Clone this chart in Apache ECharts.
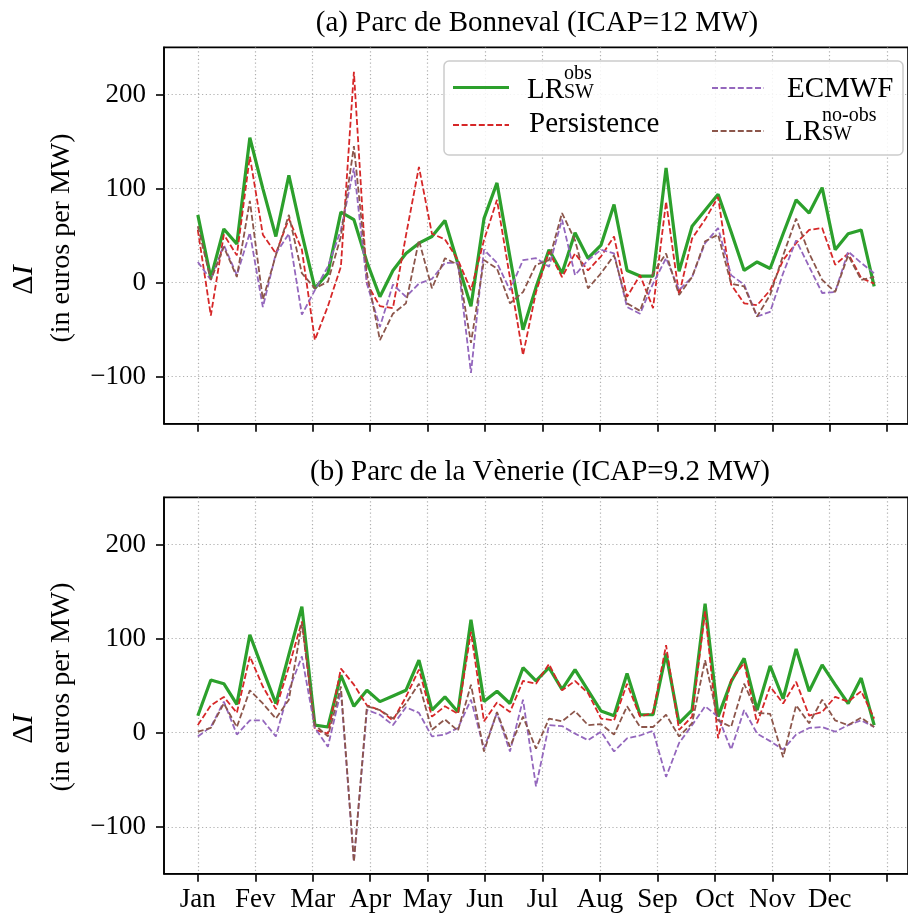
<!DOCTYPE html>
<html><head><meta charset="utf-8">
<script src="https://cdn.jsdelivr.net/npm/echarts@6/dist/echarts.min.js"></script>
<style>html,body{margin:0;padding:0;background:#fff}#c{width:908px;height:915px}</style>
</head><body><div id="c"></div>
<script>
// ---- data ----
const months = ['Jan','Fev','Mar','Apr','May','Jun','Jul','Aug','Sep','Oct','Nov','Dec'];
const nWeeks = 53;
const yTicks = [-100, 0, 100, 200];

// (a) Parc de Bonneval
const aLRobs = [72,5,57,41,154,100,49,114,52,-6,10,75,67,22,-15,13,31,42,49,66,20,-25,68,106,27,-50,-5,35,10,53,26,40,83,13,7,7,122,12,60,77,94,54,13,22,15,52,88,74,101,35,52,56,-4];
const aPers  = [56,-35,51,29,134,51,31,68,35,-61,-25,17,224,-1,-25,-27,50,123,52,46,24,-8,45,88,5,-77,-10,33,6,31,13,28,49,-15,8,-27,86,-13,47,67,91,-2,-22,-24,-8,24,42,56,58,19,31,5,-1];
const aECMWF = [22,3,40,8,53,-26,31,52,-34,-8,17,56,122,-1,-47,-2,-15,-1,4,21,21,-96,35,21,-8,24,26,17,67,8,24,35,31,-26,-33,-1,26,-8,6,42,58,8,-2,-36,-31,10,45,17,-11,-10,33,21,10];
const aNoObs = [60,3,38,6,87,-18,29,72,10,-6,1,49,145,10,-61,-33,-22,45,-6,26,19,-64,24,15,-22,-10,19,24,74,45,-6,10,29,-22,-30,10,31,-13,6,44,51,-1,-4,-36,-13,29,68,31,3,-10,29,3,6];

// (b) Parc de la Vènerie
const bLRobs = [18,56,52,30,104,67,31,83,134,8,6,61,28,45,33,39,45,77,24,38,22,120,33,44,31,69,55,69,46,67,45,23,18,63,19,19,84,10,24,137,17,54,79,24,71,36,89,44,72,51,31,58,8];
const bPers  = [8,29,38,21,81,49,25,70,118,3,-1,68,51,29,24,13,38,67,17,28,20,107,12,32,22,55,52,73,45,55,42,15,13,52,17,21,93,3,17,129,-6,56,74,10,49,31,54,18,22,38,33,44,15];
const bECMWF = [-4,6,33,-2,13,13,-4,45,81,5,-15,44,-137,24,19,8,27,21,-4,-2,5,35,-17,21,-20,35,-57,8,7,-1,-8,1,-20,-6,-3,2,-47,-11,8,28,17,-18,24,-1,-9,-18,-2,5,6,1,8,13,6];
const bNoObs = [1,5,31,6,45,31,15,35,116,8,-4,49,-137,28,24,15,31,52,3,14,2,51,-20,22,-15,17,-17,15,12,23,8,9,-2,28,6,6,19,-4,10,77,13,6,52,21,20,-26,29,10,35,13,8,16,6];

// ---- styling ----
const FONT = '"Liberation Serif","DejaVu Serif",serif';
const C_GREEN = '#2ca02c', C_RED = '#d62728', C_PURPLE = '#9467bd', C_BROWN = '#8c564b';
const DASH = [6, 2.6];
const DW = 1.8, GW = 3.2;

const monthPos = months.map((m, k) => k * nWeeks / 12);
const tickPos = monthPos.concat([nWeeks]);
const xMin = -0.05 * (nWeeks - 1), xMax = (nWeeks - 1) * 1.05;

function toXY(arr) { return arr.map((v, i) => [i, v]); }

const GRID_LINE = { color: '#b0b0b0', width: 1.2, type: [1.2, 2.6] };

function mkX(gi, showLabels) {
  return {
    type: 'value', gridIndex: gi, min: xMin, max: xMax,
    axisLine: { show: true, onZero: false, lineStyle: { color: '#000', width: 1.6 } },
    axisTick: { show: true, length: 8, customValues: tickPos, lineStyle: { color: '#000', width: 1.6 } },
    axisLabel: { show: showLabels, customValues: monthPos, margin: 13,
      formatter: v => months[Math.round(v * 12 / nWeeks)] || '',
      fontFamily: FONT, fontSize: 27, color: '#000' },
    splitLine: { show: true, lineStyle: GRID_LINE }
  };
}
function mkY(gi) {
  return {
    type: 'value', gridIndex: gi, min: -150, max: 250,
    axisLine: { show: true, onZero: false, lineStyle: { color: '#000', width: 1.6 } },
    axisTick: { show: true, length: 8, customValues: yTicks, lineStyle: { color: '#000', width: 1.6 } },
    axisLabel: { show: true, customValues: yTicks, margin: 18,
      formatter: v => v < 0 ? '\u2212' + Math.abs(v) : String(v),
      fontFamily: FONT, fontSize: 27, color: '#000' },
    splitLine: { show: true, lineStyle: GRID_LINE }
  };
}
function mkS(gi, data, color, width, dashed, z) {
  return {
    type: 'line', xAxisIndex: gi, yAxisIndex: gi, data: toXY(data),
    symbol: 'none', silent: true, z: z,
    lineStyle: { color: color, width: width, type: dashed ? DASH : 'solid', cap: 'butt' }
  };
}

const grids = [
  { left: 164, top: 47.4, width: 752, height: 376.4 },
  { left: 164, top: 497.4, width: 752, height: 376.4 }
].map(g => Object.assign(g, { show: true, borderColor: '#000', borderWidth: 1.6, backgroundColor: 'transparent', containLabel: false }));

// graphic: titles, y-axis names, legend
function txt(x, y, text, size, extra) {
  return Object.assign({
    type: 'text', x: x, y: y, z: 100,
    style: { text: text, fontFamily: FONT, fontSize: size, fill: '#000',
      align: 'left', verticalAlign: 'middle', textAlign: 'left', textVerticalAlign: 'middle' }
  }, extra || {});
}
function ctxt(x, y, text, size, rot) {
  const e = txt(x, y, text, size);
  e.style.align = 'center'; e.style.textAlign = 'center';
  if (rot) e.rotation = rot;
  return e;
}
function yName(cy) {
  const dI = {
    type: 'text', x: 24, y: cy + 42, rotation: Math.PI / 2, z: 100,
    style: { text: '{d|\u0394}{i|I}', align: 'center', verticalAlign: 'middle', textAlign: 'center', textVerticalAlign: 'middle',
      rich: { d: { fontFamily: FONT, fontSize: 30, fill: '#000' }, i: { fontFamily: FONT, fontSize: 30, fontStyle: 'italic', fill: '#000' } } }
  };
  return [dI, ctxt(62, cy, '(in euros per MW)', 28, Math.PI / 2)];
}
function lline(x1, x2, y, color, width, dashed) {
  return { type: 'line', z: 101, shape: { x1: x1, y1: y, x2: x2, y2: y },
    style: { stroke: color, lineWidth: width, lineDash: dashed ? DASH : null } };
}
const graphics = [
  ctxt(537, 23, '(a) Parc de Bonneval (ICAP=12 MW)', 29),
  ctxt(540, 472, '(b) Parc de la V\u00e8nerie (ICAP=9.2 MW)', 29),
  ...yName(238),
  ...yName(687),
  { type: 'rect', z: 99, shape: { x: 444, y: 61, width: 459, height: 94, r: 5 },
    style: { fill: 'rgba(255,255,255,0.85)', stroke: '#cccccc', lineWidth: 1.5 } },
  lline(453, 509, 87.5, C_GREEN, GW, false),
  lline(453, 509, 125, C_RED, DW, true),
  lline(712, 764, 88, C_PURPLE, DW, true),
  lline(712, 764, 131, C_BROWN, DW, true),
  txt(527, 90, 'LR', 29), txt(564, 74, 'obs', 20), txt(564, 93, 'SW', 20),
  txt(529, 124, 'Persistence', 29),
  txt(787, 89, 'ECMWF', 29),
  txt(785, 132, 'LR', 29), txt(822, 116, 'no-obs', 20), txt(822, 135, 'SW', 20)
];

const option = {
  animation: false,
  backgroundColor: '#ffffff',
  grid: grids,
  xAxis: [mkX(0, false), mkX(1, true)],
  yAxis: [mkY(0), mkY(1)],
  series: [
    mkS(0, aLRobs, C_GREEN, GW, false, 2),
    mkS(0, aPers, C_RED, DW, true, 3),
    mkS(0, aECMWF, C_PURPLE, DW, true, 4),
    mkS(0, aNoObs, C_BROWN, DW, true, 5),
    mkS(1, bLRobs, C_GREEN, GW, false, 2),
    mkS(1, bPers, C_RED, DW, true, 3),
    mkS(1, bECMWF, C_PURPLE, DW, true, 4),
    mkS(1, bNoObs, C_BROWN, DW, true, 5)
  ],
  graphic: { elements: graphics }
};
const chart = echarts.init(document.getElementById('c'));
chart.setOption(option);
</script>
</body></html>
